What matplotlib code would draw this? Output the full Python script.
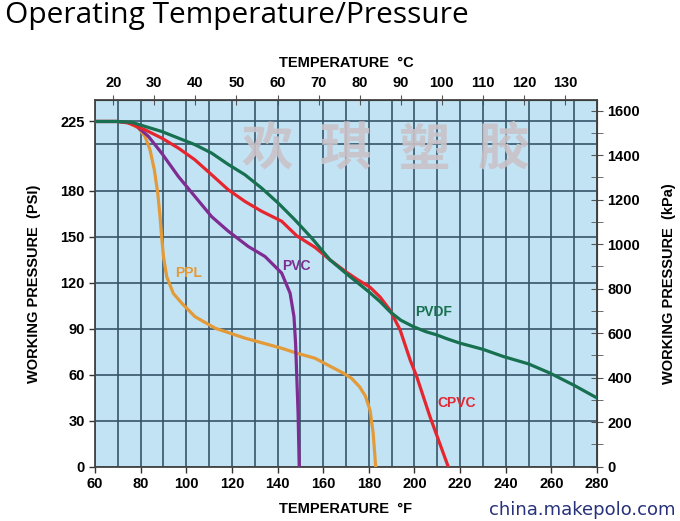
import matplotlib.pyplot as plt

# temperatures in F, pressures in psi
ppl_t = [60, 70, 74.6, 79, 81.9, 84.1, 86, 87.5, 88.5, 89.2, 90, 91.4, 94.3, 98, 103.8, 112.6,
         125.7, 141.8, 148.4, 156.4, 163, 168.8, 172.5, 176, 178.5, 180.5, 181.9, 183]
ppl_p = [225, 225, 224.4, 220.7, 215.3, 206.6, 193.5, 178.3, 163, 150, 137, 124, 113, 106.6, 97.8, 90.3,
         83.8, 77.2, 74, 70.7, 65.5, 61, 57.5, 52, 46, 37, 22, 0]

pvc_t = [60, 70, 74, 77.5, 83.4, 89.2, 96.5, 103.8, 111.1, 118.4, 127.2, 134.5, 141.8, 145.5,
         147.2, 147.9, 148.4, 149, 149.5]
pvc_p = [225, 225, 224.5, 222.9, 215.3, 204.4, 189.2, 176.1, 163, 153.5, 143.5, 137, 126.2, 113.1,
         97.8, 80.5, 60, 35, 0]

cpvc_t = [60, 70, 74.6, 81.9, 89.2, 96.5, 103.8, 111.1, 118.4, 125.7, 133, 141.8, 148.4, 156.4,
          163, 170, 175, 180.5, 185, 189.3, 193.7, 198.1, 201, 206.8, 214.8]
cpvc_p = [225, 225, 224, 219.6, 214.2, 207.7, 200, 190.3, 180.5, 172.9, 166.5, 160, 150.5, 143,
          134.8, 127, 122, 117, 110.5, 102, 89.2, 69.6, 58.7, 32.6, 0]

pvdf_t = [60, 70, 76, 81.9, 89.2, 96.5, 103.8, 111.1, 118.4, 125.7, 133, 140.3, 147.6, 155, 163,
          170, 175, 180, 185, 189.3, 194, 199.5, 205, 209.8, 214, 220, 230, 239, 250, 259.4, 270, 280]
pvdf_p = [225, 225, 224.5, 221.8, 218.5, 214.2, 209.9, 204.4, 197, 190.3, 181.6, 171.8, 160.9, 149, 134.8,
          126, 120, 114, 107.5, 101, 95.5, 91.3, 88, 85.9, 83.5, 80.5, 76.5, 71.8, 67, 61, 53, 44.8]

curves = [('PPL', ppl_t, ppl_p, '#e39a38', (100.9, 126)),
          ('PVC', pvc_t, pvc_p, '#7e2c91', (148.4, 130.5)),
          ('CPVC', cpvc_t, cpvc_p, '#e5262f', (218.6, 41.4)),
          ('PVDF', pvdf_t, pvdf_p, '#17704f', (208.5, 101))]

f_ticks = list(range(60, 281, 20))
c_ticks = list(range(20, 131, 10))
psi_ticks = [0, 30, 60, 90, 120, 150, 180, 225]
kpa_ticks = list(range(0, 1601, 200))
watermark = ['欢', '琪', '塑', '胶']

PSI2KPA = 6.895

plt.rcParams['font.family'] = ['Liberation Sans', 'DejaVu Sans']

fig = plt.figure(figsize=(6.8, 5.21), dpi=100)
ax = fig.add_axes([95 / 680, 1 - 466.7 / 521, 502 / 680, 366.7 / 521])
ax.set_facecolor('#c2e3f4')

for name, t, p, col, lab in curves:
    ax.plot(t, p, color=col, lw=2.3, zorder=3, solid_joinstyle='round')
    ax.text(lab[0], lab[1], name, color=col, fontsize=10, fontweight='bold',
            ha='center', va='center', zorder=4)

ax.set_xlim(60, 280)
ax.set_ylim(0, 239)
ax.set_xticks(range(60, 281, 10), minor=True)
ax.set_xticks(f_ticks)
ax.set_yticks(range(0, 211, 30), minor=True)
ax.set_yticks(psi_ticks)
ax.grid(True, which='both', color='#375569', lw=1.2, zorder=1)
ax.set_axisbelow(True)
ax.tick_params(which='both', labelsize=10.5, width=1, color='#333333', length=4)
ax.tick_params(which='minor', length=0)
for lbl in ax.get_xticklabels() + ax.get_yticklabels():
    lbl.set_fontweight('bold')
for s in ax.spines.values():
    s.set_color('#444444')
    s.set_linewidth(1.3)

ax.set_xlabel('TEMPERATURE  °F', fontsize=10.5, fontweight='bold', labelpad=8)
ax.set_ylabel('WORKING PRESSURE  (PSI)', fontsize=10.5, fontweight='bold', labelpad=14)

top = ax.secondary_xaxis('top', functions=(lambda f: (f - 32) / 1.8, lambda c: c * 1.8 + 32))
top.set_xticks(c_ticks)
top.tick_params(direction='inout', length=7, labelsize=10.5, color='#555555')
for lbl in top.get_xticklabels():
    lbl.set_fontweight('bold')
top.set_xlabel('TEMPERATURE  °C', fontsize=10.5, fontweight='bold', labelpad=7)

right = ax.secondary_yaxis('right', functions=(lambda p: p * PSI2KPA, lambda k: k / PSI2KPA))
right.set_yticks(kpa_ticks)
right.set_yticks(range(100, 1600, 200), minor=True)
right.tick_params(which='both', direction='inout', length=8, labelsize=10.5, color='#555555')
for lbl in right.get_yticklabels():
    lbl.set_fontweight('bold')
right.set_ylabel('WORKING PRESSURE  (kPa)', fontsize=10.5, fontweight='bold', labelpad=16)

fig.text(5 / 680, 1 - 16 / 521, 'Operating Temperature/Pressure', fontsize=21.5,
         family='Open Sans', ha='left', va='center')
for i, ch in enumerate(watermark):
    fig.text((267 + 79 * i) / 680, 1 - 150 / 521, ch, fontsize=37, fontweight='bold',
             family=['Noto Sans CJK SC', 'DejaVu Sans'], color='#c9c3c8', alpha=0.9,
             ha='center', va='center', zorder=2)
fig.text(676 / 680, 1 - 510 / 521, 'china.makepolo.com', fontsize=13,
         family='DejaVu Sans', color='#27327a', ha='right', va='center')

fig.savefig('out.png', dpi=100)
